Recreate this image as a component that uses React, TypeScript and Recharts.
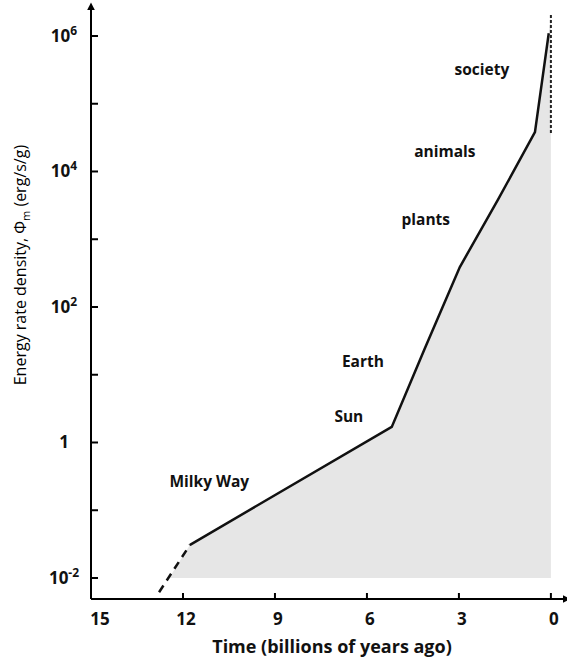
import React from "react";
import {
  ComposedChart,
  Line,
  Area,
  XAxis,
  YAxis,
  ReferenceDot,
} from "recharts";

// track of energy rate density through cosmic time (log10 of erg/s/g)
const trackTime = [12.78, 11.77, 5.19, 4.11, 2.97, 1.73, 0.52, 0.07];
const trackLogPhi = [-2.21, -1.51, 0.23, 1.39, 2.59, 3.58, 4.58, 6.04];
const solidFrom = 1; // first point of the solid part

// grey shading below the track, down to 10^-2
const shadeFloor = -2;
const shadeStartTime = 12.45;

// spread at the present day (dashed vertical)
const societyTime = 0;
const societySpread = [6.31, 4.54];

const xTicks = [15, 12, 9, 6, 3, 0];
const yTicks = [-2, -1, 0, 1, 2, 3, 4, 5, 6];
const yTickText = ["10^-2", "", "1", "", "10^2", "", "10^4", "", "10^6"];

const stageNames = ["Milky Way", "Sun", "Earth", "plants", "animals", "society"];
const stageTime = [11.14, 6.59, 6.13, 4.08, 3.46, 2.25];
const stageLogPhi = [-0.66, 0.3, 1.11, 3.21, 4.21, 5.42];

const rows: any[] = [];
trackTime.forEach((t, i) => {
  const v = trackLogPhi[i];
  rows.push({
    t,
    dashed: i <= solidFrom ? v : undefined,
    solid: i >= solidFrom ? v : undefined,
    shade: i >= solidFrom ? v : undefined,
  });
  if (i === 0) rows.push({ t: shadeStartTime, shade: shadeFloor });
});
rows.push({ t: societyTime, shade: societySpread[0], band: societySpread[0] });
rows.push({ t: societyTime, band: societySpread[1] });

const FONT = "'Open Sans', sans-serif";

const YTick = (props: any) => {
  const { x, y, index } = props;
  const txt = yTickText[index] || "";
  const [base, exp] = txt.split("^");
  return (
    <g>
      <line x1={x} y1={y} x2={x + 7} y2={y} stroke="#000" strokeWidth={2} />
      {txt && (
        <text
          x={x - 27}
          y={y + 6}
          textAnchor="middle"
          fontFamily={FONT}
          fontWeight={700}
          fontSize={17}
          fill="#111"
        >
          {base}
          {exp && (
            <tspan fontSize={12} dy={-7}>
              {exp}
            </tspan>
          )}
        </text>
      )}
    </g>
  );
};

const XTick = (props: any) => {
  const { x, y, payload } = props;
  const shift = payload.value === 15 ? 9 : 3;
  return (
    <g>
      <line x1={x} y1={y} x2={x} y2={y - 6} stroke="#000" strokeWidth={2} />
      <text
        x={x + shift}
        y={y + 26}
        textAnchor="middle"
        fontFamily={FONT}
        fontWeight={700}
        fontSize={17}
        fill="#111"
      >
        {payload.value}
      </text>
    </g>
  );
};

const StageLabel = (name: string) => (p: any) => (
  <text
    x={p.cx}
    y={p.cy}
    textAnchor="middle"
    fontFamily={FONT}
    fontWeight={700}
    fontSize={15.5}
    fill="#111"
  >
    {name}
  </text>
);

export default function App() {
  return (
    <div style={{ position: "absolute", left: 0, top: 0, background: "#fff" }}>
      <ComposedChart
        width={567}
        height={659}
        data={rows}
        margin={{ top: 8, right: 2, bottom: 0, left: 0 }}
      >
        <defs>
          <marker
            id="arrowHead"
            viewBox="0 0 10 10"
            refX="3"
            refY="5"
            markerWidth="4"
            markerHeight="4"
            orient="auto-start-reverse"
          >
            <path d="M0,0 L10,5 L0,10 z" fill="#000" />
          </marker>
        </defs>
        <XAxis
          dataKey="t"
          type="number"
          domain={[-0.46, 15]}
          reversed
          allowDataOverflow
          ticks={xTicks}
          interval={0}
          height={60}
          tickSize={0}
          tickMargin={0}
          tickLine={false}
          tick={<XTick />}
          axisLine={{ stroke: "#000", strokeWidth: 2, markerEnd: "url(#arrowHead)" }}
          label={{
            content: (p: any) => (
              <text
                x={p.viewBox.x + p.viewBox.width / 2 + 4}
                y={653}
                textAnchor="middle"
                fontFamily={FONT}
                fontWeight={700}
                fontSize={18}
                fill="#111"
              >
                Time (billions of years ago)
              </text>
            ),
          }}
        />
        <YAxis
          type="number"
          domain={[-2.31, 6.413]}
          allowDataOverflow
          ticks={yTicks}
          interval={0}
          width={91}
          tickSize={0}
          tickMargin={0}
          tickLine={false}
          tick={<YTick />}
          axisLine={{ stroke: "#000", strokeWidth: 2, markerStart: "url(#arrowHead)" }}
          label={{
            content: (p: any) => {
              const cy = p.viewBox.y + p.viewBox.height * 0.435;
              return (
                <text
                  x={0}
                  y={0}
                  transform={`translate(26, ${cy}) rotate(-90)`}
                  textAnchor="middle"
                  fontFamily={FONT}
                  fontSize={16}
                  fontWeight={500}
                  style={{ fill: "#000" }}
                >
                  Energy rate density, Φ
                  <tspan fontSize={11} dy={4}>m</tspan>
                  <tspan dy={-4}> (erg/s/g)</tspan>
                </text>
              );
            },
          }}
        />
        <Area
          dataKey="shade"
          type="linear"
          baseValue={shadeFloor}
          fill="#e6e6e6"
          fillOpacity={1}
          stroke="none"
          isAnimationActive={false}
          dot={false}
          activeDot={false}
        />
        <Line
          dataKey="dashed"
          type="linear"
          stroke="#111"
          strokeWidth={2.5}
          strokeDasharray="8 6"
          connectNulls
          dot={false}
          activeDot={false}
          isAnimationActive={false}
        />
        <Line
          dataKey="band"
          type="linear"
          stroke="#222"
          strokeWidth={2}
          strokeDasharray="3 2"
          dot={false}
          activeDot={false}
          isAnimationActive={false}
        />
        <Line
          dataKey="solid"
          type="linear"
          stroke="#111"
          strokeWidth={2.5}
          dot={false}
          activeDot={false}
          isAnimationActive={false}
        />
        {stageNames.map((name, i) => (
          <ReferenceDot
            key={name}
            x={stageTime[i]}
            y={stageLogPhi[i]}
            r={0}
            ifOverflow="visible"
            shape={StageLabel(name)}
          />
        ))}
      </ComposedChart>
    </div>
  );
}
